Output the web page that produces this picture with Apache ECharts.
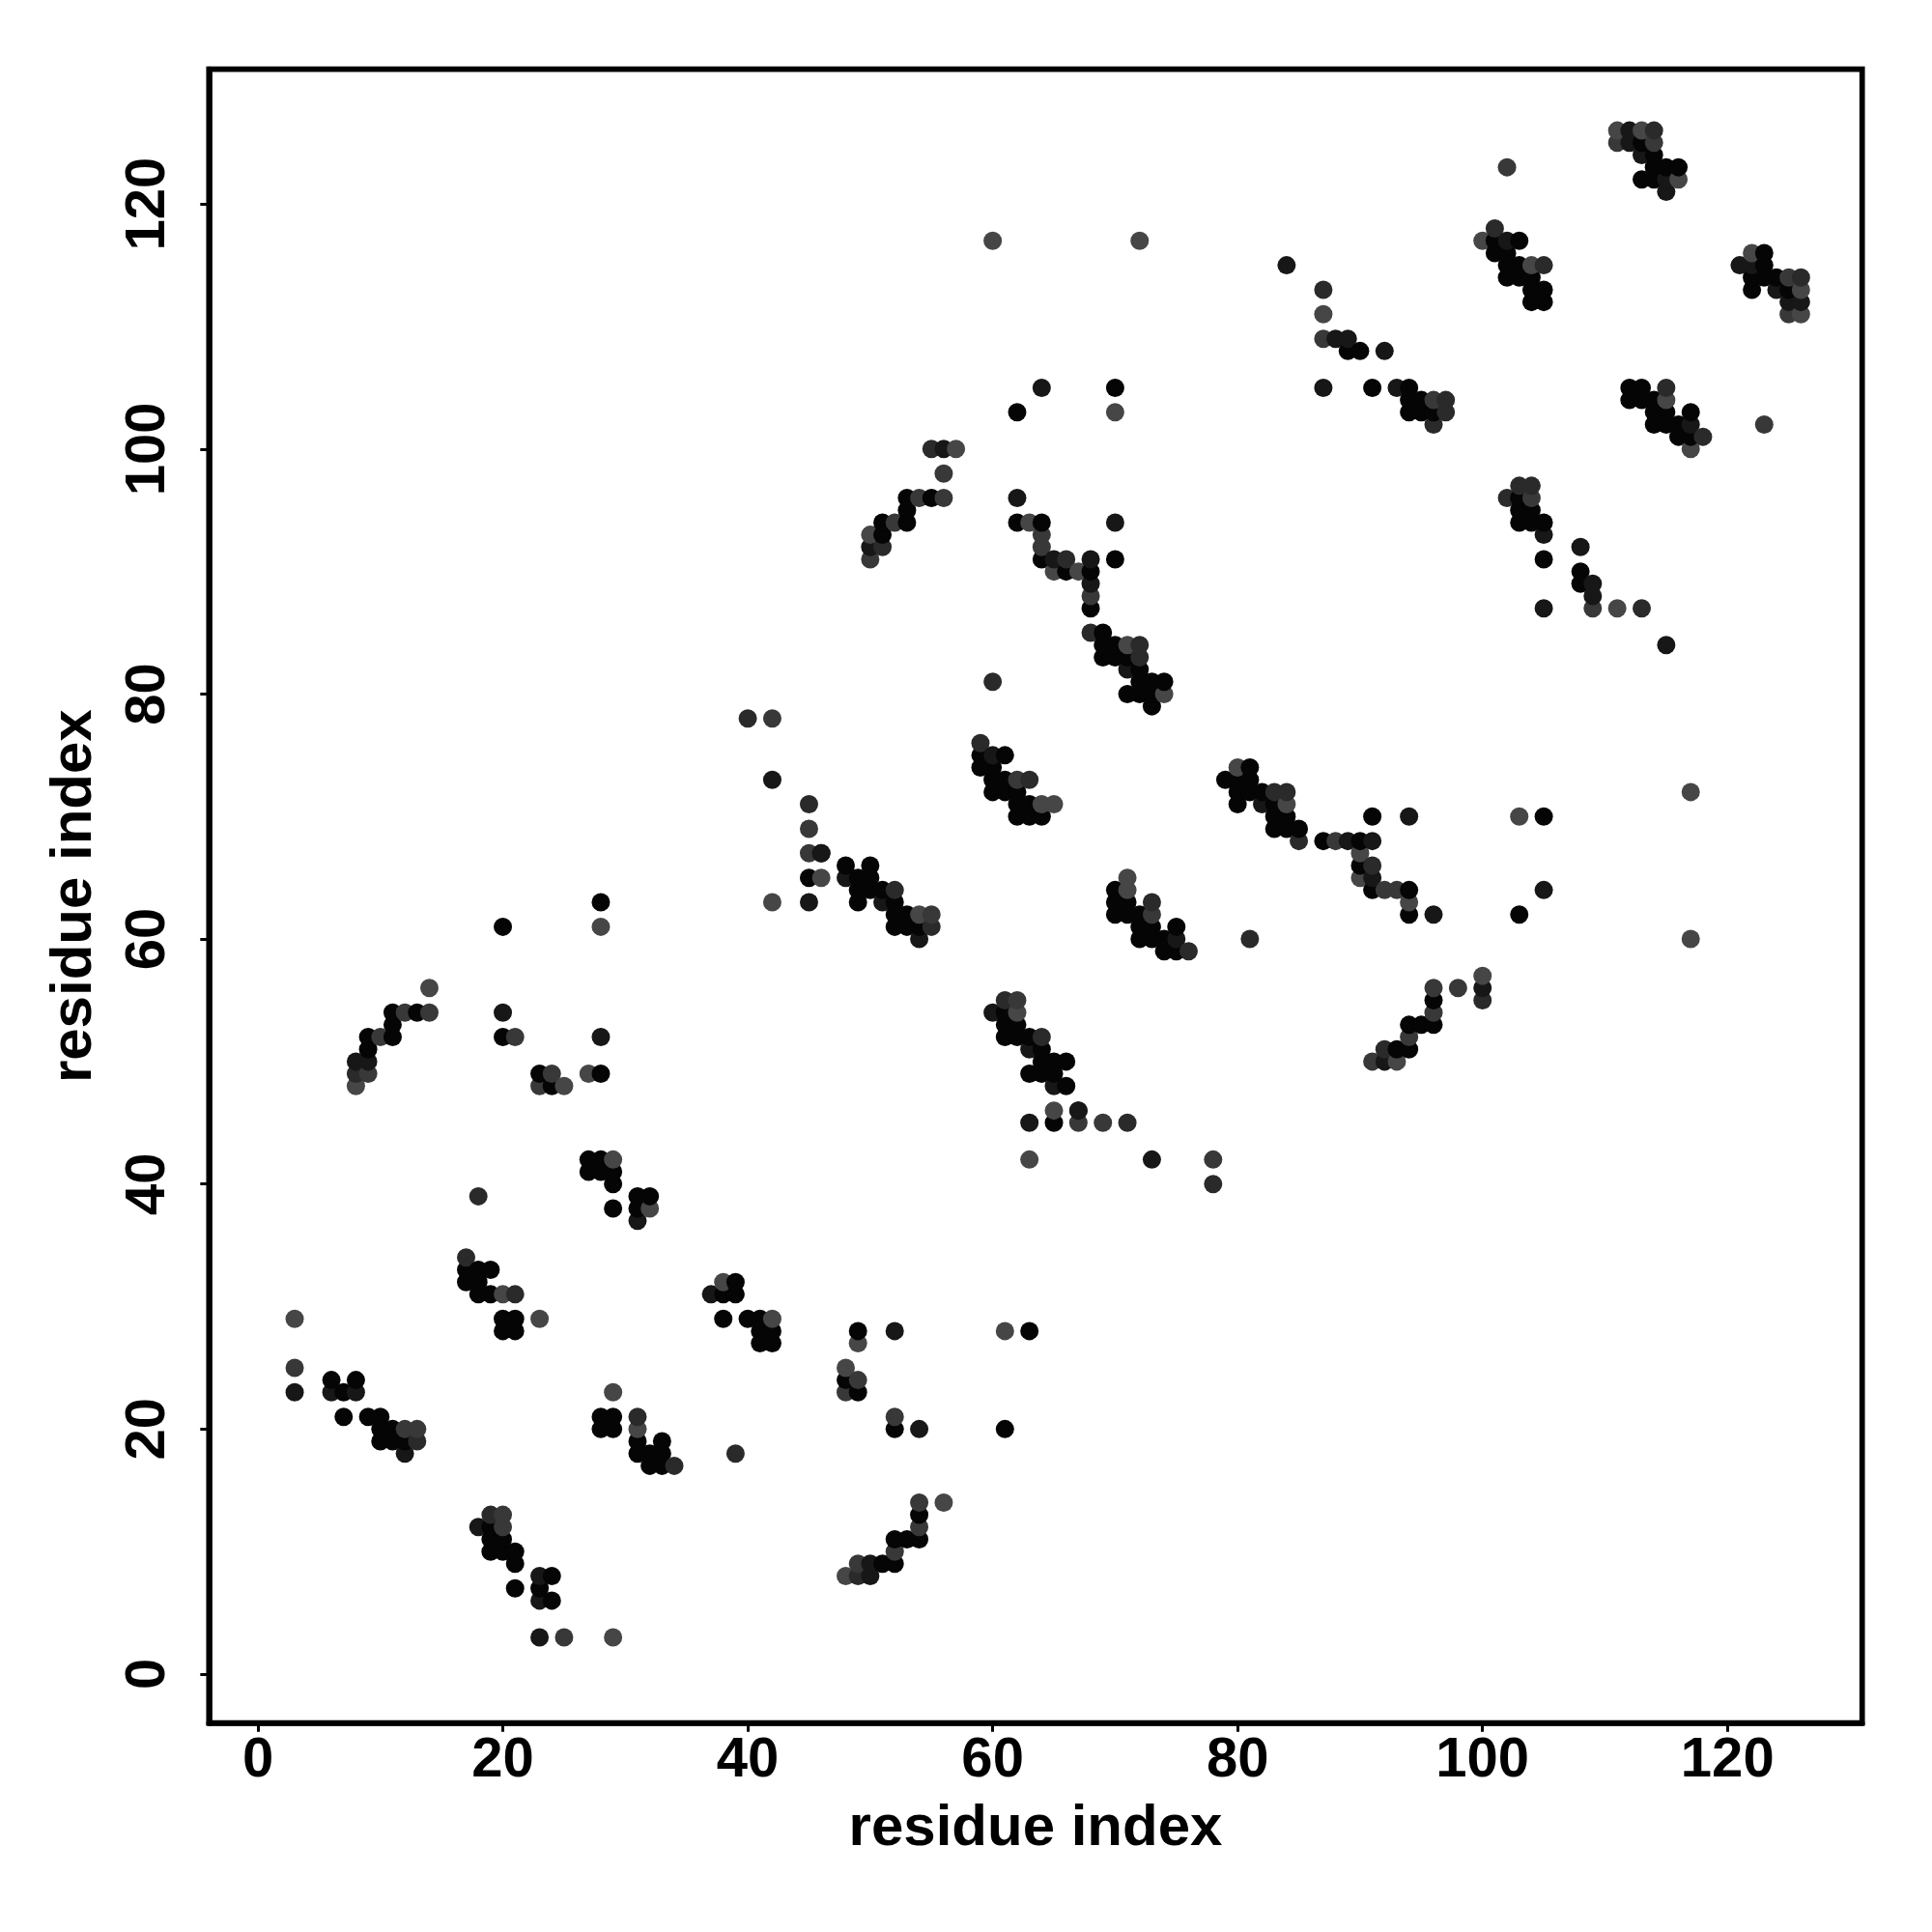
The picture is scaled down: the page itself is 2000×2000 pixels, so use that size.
<!DOCTYPE html>
<html>
<head>
<meta charset="utf-8">
<style>html,body{margin:0;padding:0;background:#fff}#c{width:2000px;height:2000px}</style>
<script src="https://cdn.jsdelivr.net/npm/echarts@6/dist/echarts.min.js"></script>
</head>
<body>
<div id="c"></div>
<script>
// Contacts as [i, j] with i < j; the map is symmetric.
const contactsBlack = [[6,24],[8,24],[7,23],[7,21],[9,21],[10,21],[10,20],[11,20],[10,19],[11,19],[12,19],
[17,33],[18,33],[19,33],[17,32],[18,32],[18,31],[19,31],[20,29],[21,29],[20,28],[21,28],
[11,54],[13,54],[11,53],[9,52],[11,52],[9,51],[20,52],[20,61],[28,63],[23,49],[24,48],[28,49],
[27,42],[28,42],[27,41],[28,41],[29,41],[29,40],[29,38],[31,39],[32,39],[31,38],
[45,65],[48,66],[50,66],[49,65],[50,65],[49,64],[50,64],[51,64],[49,63],[52,63],[52,62],[53,62],[52,61],[53,61],[54,61],
[51,93],[51,94],[53,94],[53,95],[53,96],[55,96],
[59,75],[61,75],[59,74],[60,74],[60,73],[61,73],[60,72],[61,72],[62,72],[62,71],[63,71],[62,70],[63,70],[64,70],
[70,105],[62,103],[62,94],[64,94],[70,91],[64,91],[66,90],[68,90],[68,87],[69,85],
[69,84],[70,84],[69,83],[70,83],[71,83],[72,82],[72,81],[73,81],[74,81],[71,80],[72,80],[73,80],[73,79],
[89,108],[90,108],[91,105],[94,105],[94,104],[95,104],[94,103],[95,103],[96,103],
[113,125],[114,124],[114,123],[115,123],[116,123],[113,122],[114,122],
[101,117],[103,117],[101,116],[102,116],[102,115],[103,115],[102,114],[103,114],[104,114],[104,113],[105,113],[104,112],[105,112]];
const contactsDark = [[3,23],[6,23],[8,23],[12,18],[8,50],[9,50],[20,54],[28,52],[31,37],
[42,73],[46,67],[48,65],[51,63],[54,60],[50,92],[56,100],[60,75],[84,115],[64,105],
[62,96],[70,94],[65,91],[68,91],[68,89],[71,82],[88,109],[89,109],[92,108],[87,105],[93,105],
[112,126],[112,125],[113,124],[115,122],[115,121],[102,117],[45,63],[46,67]];
const contactsMid = [[13,19],[18,39],[17,34],[21,31],[8,49],[40,78],[45,71],[52,64],[55,61],[51,92],[55,100],
[59,76],[63,73],[60,81],[66,91],[68,85],[72,84],[72,83],[87,113],[97,104],[97,103],[96,102],[114,126],[101,118],[105,115]];
const contactsSoft = [[3,25],[12,20],[13,20],[12,54],[14,54],[10,52],[9,49],[21,52],[24,49],[23,48],
[42,78],[45,69],[45,67],[55,62],[50,91],[52,94],[54,96],[56,96],[56,98],[62,73],
[64,93],[64,92],[68,88],[87,109],[96,104],[102,123],[111,125],[114,125]];
const contactsLight = [[3,29],[20,31],[23,29],[14,56],[8,48],[28,61],[25,48],[27,49],[29,42],[32,38],[42,63],[46,65],
[54,62],[50,93],[57,100],[64,71],[65,71],[60,117],[72,117],[70,103],[63,94],[65,90],[67,90],[71,84],[74,80],
[87,111],[111,126],[113,126],[116,122],[100,117],[104,115]];

const tickValues = [0, 20, 40, 60, 80, 100, 120];
const axisLabelText = 'residue index';
const shadeBlack = '#050505', shadeDark = '#171717', shadeMid = '#2a2a2a', shadeSoft = '#383838', shadeLight = '#464646';

const pts = [];
function add(list, color) {
  list.forEach(function (p) {
    pts.push({ value: [p[0], p[1]], itemStyle: { color: color, opacity: 1 } });
    pts.push({ value: [p[1], p[0]], itemStyle: { color: color, opacity: 1 } });
  });
}
add(contactsBlack, shadeBlack);
add(contactsDark, shadeDark);
add(contactsMid, shadeMid);
add(contactsSoft, shadeSoft);
add(contactsLight, shadeLight);
pts.sort(function (p, q) { return p.value[0] - q.value[0] || p.value[1] - q.value[1]; });

const font = { fontFamily: 'Liberation Sans', fontWeight: 'bold', color: '#000' };
function axis(isY) {
  return {
    type: 'value', min: -4, max: 131,
    name: axisLabelText, nameLocation: 'middle', nameGap: isY ? 109 : 80,
    nameRotate: isY ? 90 : 0,
    nameTextStyle: Object.assign({ fontSize: 60 }, font),
    splitLine: { show: false },
    axisLine: { show: true, onZero: false, lineStyle: { color: '#000', width: 5.7 } },
    axisTick: { show: true, length: 9, inside: false, lineStyle: { color: '#000', width: 3 }, customValues: tickValues },
    axisLabel: Object.assign({ show: true, fontSize: 58, margin: isY ? 33 : 10, rotate: isY ? 90 : 0, customValues: tickValues,
      formatter: function (v) { return String(v); } }, font)
  };
}
const chart = echarts.init(document.getElementById('c'), null, { renderer: 'canvas' });
chart.setOption({
  animation: false,
  backgroundColor: '#fff',
  grid: { show: true, left: 216.3, right: 72.3, top: 71.7, bottom: 216.3, borderColor: '#000', borderWidth: 5.7 },
  xAxis: axis(false),
  yAxis: axis(true),
  series: [{ type: 'scatter', symbol: 'circle', symbolSize: 19, data: pts, silent: true, itemStyle: { opacity: 1 } }]
});
</script>
</body>
</html>
